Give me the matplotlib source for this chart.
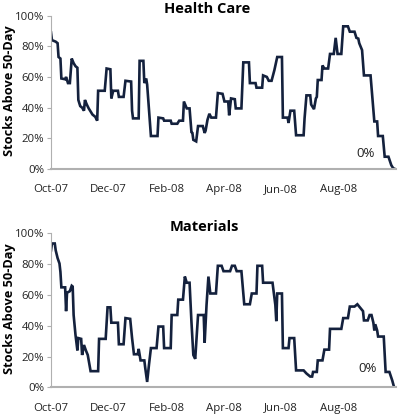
import matplotlib
matplotlib.use("Agg")
import matplotlib.pyplot as plt
import matplotlib.dates as mdates
import pandas as pd

plt.rcParams['font.family'] = ['Open Sans', 'DejaVu Sans']

start = pd.Timestamp("2007-10-01")

# Health Care: days since 2007-10-01, % of stocks above 50-day
hc_days = [0, 1, 5, 7, 8, 10, 11, 15, 16, 18, 20, 22, 24, 26, 28, 29, 31, 33, 35, 36,
           38, 40, 44, 47, 49, 50, 57, 59, 63, 64, 66, 71, 72, 77, 79, 85, 86, 87, 93, 94,
           98, 99, 101, 102, 106, 113, 114, 119, 120, 127, 128, 134, 136, 140, 141, 144,
           147, 149, 150, 151, 154, 156, 161, 163, 164, 166, 168, 170, 175, 177, 182, 184,
           188, 189, 191, 195, 196, 202, 204, 210, 211, 217, 218, 224, 225, 229, 231, 234,
           237, 240, 245, 246, 251, 252, 254, 258, 260, 268, 269, 271, 275, 276, 279, 281,
           282, 283, 287, 288, 290, 294, 296, 300, 302, 304, 308, 310, 315, 317, 322, 324,
           326, 327, 330, 332, 339, 343, 346, 347, 352, 354, 358, 361, 363, 365]
hc_vals = [89, 84, 83, 82, 73, 72, 59, 58.5, 60, 56, 56, 72, 69, 67, 66, 45, 41, 40, 38, 45,
           42, 39.5, 35.5, 34, 31.5, 51, 51, 65.5, 65, 46, 51, 51, 47, 47, 57.5, 57, 38, 33, 33, 70.5,
           70.5, 56, 59, 55, 21.5, 21.5, 33.5, 33, 31.5, 31.5, 29.5, 29.5, 31.5, 31.5, 44, 39.5,
           39.5, 24, 23.5, 19, 18, 28, 28, 23.5, 25, 32, 36, 33.5, 33.5, 49.5, 49, 44,
           44, 35, 46, 45.5, 39.5, 39.5, 69.5, 69.5, 56, 56, 53, 53, 61, 60, 57.5, 57.5,
           64.5, 73, 73, 33.5, 33.5, 30, 38, 38, 22, 22, 33, 48, 48, 42, 39, 46,
           47, 58, 58, 67.5, 65.5, 65.5, 75, 75, 85.5, 75, 75, 93, 93, 89.5, 89.5, 85.5,
           85, 82, 77.5, 61, 61, 31, 31, 21.5, 21.5, 8, 8, 2.5, 0.5, 0]

# Materials
mat_days = [0, 1, 4, 5, 7, 9, 10, 11, 15, 16, 17, 20, 22, 23, 24, 26, 28, 29, 32, 33,
            35, 37, 39, 42, 50, 51, 58, 60, 63, 64, 71, 72, 77, 79, 84, 86, 88, 92, 93, 95,
            99, 100, 102, 104, 106, 112, 114, 119, 120, 127, 128, 134, 135, 140, 142, 144,
            147, 149, 151, 153, 156, 162, 163, 165, 167, 169, 175, 177, 181, 183, 190, 192,
            195, 197, 202, 205, 211, 213, 218, 219, 224, 225, 235, 238, 239, 240, 245, 246,
            252, 253, 258, 260, 268, 271, 275, 277, 278, 282, 283, 288, 290, 295, 296, 308,
            310, 315, 317, 322, 325, 327, 331, 332, 336, 338, 340, 342, 343, 344, 346, 347,
            353, 355, 359, 362, 364]
mat_vals = [89, 93.5, 93.5, 89, 84, 80.5, 75, 65, 65, 49.5, 61.5, 62.5, 66, 65.5, 47, 34, 24, 32, 31.5, 21,
            27.5, 24, 21, 10.5, 10.5, 31.5, 31.5, 52, 52, 42, 42, 28, 28, 45, 44.5, 32, 21.5, 21.5, 25, 17.5,
            17.5, 12.5, 3.5, 15, 25.5, 25.5, 39.5, 39.5, 25.5, 25.5, 47, 47, 57, 57, 72, 68,
            68, 42.5, 21, 18.5, 47, 47, 29, 53.5, 72, 61, 61, 79, 79, 75.5, 75.5, 79,
            79, 75.5, 75.5, 54, 54, 61, 61, 79, 79, 68, 68, 53.5, 43, 61, 61, 25.5,
            25.5, 32, 32, 11, 11, 9, 7, 7, 10, 10, 17.5, 17.5, 24.5, 24.5, 38, 38,
            45, 45, 52.5, 52.5, 54, 52.5, 49.5, 43.5, 43.5, 47, 47, 42, 37, 41, 37, 33,
            33, 10, 10, 4.5, 0]

panels = [("Health Care", hc_days, hc_vals, 334, 10, 0.518),
          ("Materials", mat_days, mat_vals, 336, 12.5, 0.51)]

tick_dates = pd.to_datetime(["2007-10-01", "2007-12-01", "2008-02-01",
                             "2008-04-01", "2008-06-01", "2008-08-01"])
line_color = "#14213d"
grey = "#b0b0b0"

fig = plt.figure(figsize=(4, 4.18), dpi=100)
axes_rects = [[0.1275, 0.5957, 0.8625, 0.367],
              [0.1275, 0.0734, 0.8625, 0.368]]
title_y = [0.978, 0.457]

for i, (name, days, vals, lx, ly, tx) in enumerate(panels):
    ax = fig.add_axes(axes_rects[i])
    dates = start + pd.to_timedelta(days, unit="D")
    ax.plot(dates, vals, color=line_color, lw=1.9, solid_joinstyle="miter")
    ax.set_xlim(start, pd.Timestamp("2008-10-01"))
    ax.set_ylim(0, 100)
    ax.set_yticks(range(0, 101, 20))
    ax.set_yticklabels([f"{v}%" for v in range(0, 101, 20)])
    ax.set_xticks(tick_dates)
    ax.xaxis.set_major_formatter(mdates.DateFormatter("%b-%y"))
    ax.tick_params(axis="y", length=3, color=grey, labelsize=8.2, pad=2, labelcolor="#222222")
    ax.tick_params(axis="x", length=0, labelsize=8.2, pad=11, labelcolor="#222222")
    for s in ["top", "right"]:
        ax.spines[s].set_visible(False)
    ax.spines["left"].set_color(grey)
    ax.spines["bottom"].set_color(grey)
    ax.spines["bottom"].set_linewidth(1.5)
    ax.set_ylabel("Stocks Above 50-Day", fontweight="bold", fontsize=9.2, labelpad=0)
    ax.yaxis.set_label_coords(-0.1, 0.51)
    ax.text(start + pd.Timedelta(days=lx), ly, "0%", fontsize=9.5,
            ha="center", va="center", color="#222222")
    fig.text(tx, title_y[i], name, fontweight="bold", fontsize=10.5,
             ha="center", va="center")

fig.savefig("out.png", dpi=100)
